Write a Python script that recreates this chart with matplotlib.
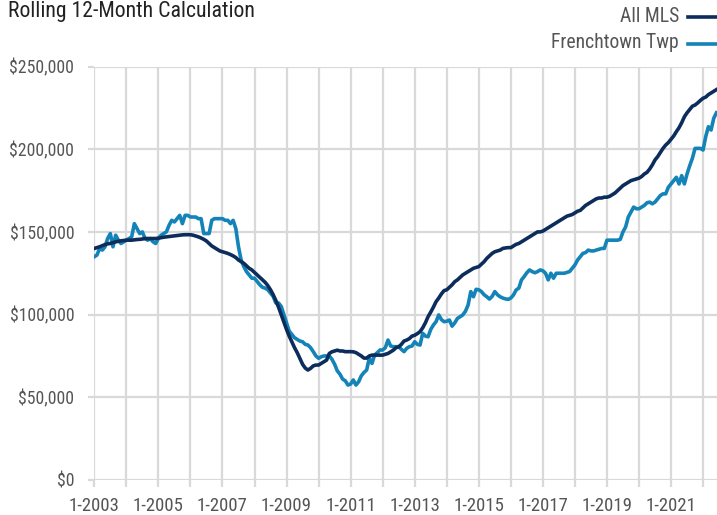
import matplotlib
matplotlib.use("Agg")
import matplotlib.pyplot as plt
from matplotlib.lines import Line2D
from matplotlib import font_manager
import numpy as np

_avail = {f.name for f in font_manager.fontManager.ttflist}
_fams = [f for f in ['Liberation Sans Narrow', 'Roboto Condensed', 'Open Sans Condensed',
                     'Liberation Sans', 'DejaVu Sans'] if f in _avail]
plt.rcParams['font.family'] = _fams

title = "Rolling 12-Month Calculation"
series_names = ["All MLS", "Frenchtown Twp"]
start_year = 2003

# monthly values (in $ thousands), Jan 2003 .. Jun 2022
all_mls = [
    140, 140.5, 141, 141.7, 142.3, 142.8, 143, 143.5, 144, 144.3, 144.6, 144.8,
    145, 145, 145, 145.2, 145.4, 145.5, 145.7, 146, 146, 146, 146, 146,
    146.2, 146.5, 146.8, 147, 147.2, 147.4, 147.6, 147.8, 148, 148.2, 148.3, 148.3,
    148.3, 148, 147.5, 147, 146.3, 145.5, 144.5, 143, 141.5, 140.5, 139.5, 138.5,
    138, 137.5, 137, 136.3, 135.5, 134.5, 133, 132, 131, 129.5, 128, 127,
    125.5, 124, 122.5, 121, 119.5, 117.5, 115, 112, 108.5, 104.5, 100, 95.5,
    91, 87, 83.5, 80, 77, 73.5, 70, 67.7, 66.5, 67.5, 69, 69.5,
    69.5, 70.5, 71.5, 72.5, 76.5, 77.5, 78, 78.5, 78, 78, 77.6, 77.6,
    77.6, 77.5, 77, 76, 75, 73.7, 73.7, 75, 75.5, 75.5, 75.5, 75.5,
    75.5, 76, 76.5, 77.5, 78.5, 80, 80.5, 82, 84, 84.6, 85.5, 87,
    87.5, 88.5, 89.7, 92, 95, 98.7, 101.5, 104.5, 107.8, 110, 112.5, 114.5,
    115, 116.5, 118, 119.9, 121, 122.5, 124, 125, 126, 127, 128, 128.5,
    129, 130.5, 132, 134, 135.5, 137, 138, 138.5, 139, 140, 140.3, 140.5,
    140.5, 141.5, 142.5, 143, 144, 145, 146, 147, 148, 149, 150, 150,
    150.5, 151.5, 152.5, 153.5, 154.5, 155.5, 156.5, 157.5, 158.5, 159.5, 160, 160.5,
    161.5, 162.5, 163, 164.5, 166, 167, 168, 169, 170, 170.5, 170.5, 171,
    171, 171.5, 172.5, 173.5, 175, 176.5, 178, 179, 180, 181, 181.5, 182,
    182.5, 183.5, 185, 186, 188, 190.5, 193.5, 195.5, 198, 200.5, 202.5, 204,
    206, 208, 210.6, 213, 216, 219.6, 222, 224, 226, 226.7, 228, 229.5,
    230.8, 231.5, 233, 234, 235, 236,
]

frenchtown = [
    135, 136, 140, 139, 141, 146, 149, 141, 148, 145, 143, 144,
    145, 146, 147, 155, 152, 149, 150, 146, 145, 146, 144, 143,
    146, 148, 149, 150, 154, 157, 156, 158, 160, 155, 160, 160,
    159, 159, 159, 158, 158, 149, 149, 149, 157, 158, 158, 158,
    158, 157, 157, 155, 157, 152, 141, 133, 129, 126, 124, 122,
    122, 120, 118, 116.5, 116, 115, 113, 111, 107, 107, 105, 100,
    95, 90, 88, 86, 85, 84, 83.6, 82, 81.6, 80, 77.6, 75,
    73.6, 74.5, 75, 75, 75, 73, 70, 66, 64, 61, 60, 57.4,
    58, 60.5, 57.4, 59.4, 63, 65, 66.5, 73.6, 70.5, 75.6, 77, 78.6,
    78.6, 80, 84.6, 81, 80.6, 80.6, 80.6, 79, 77.6, 79.6, 80.6, 81,
    83.6, 82, 81.6, 88.7, 87, 86.6, 91, 93.7, 95.7, 99.8, 97, 95.7,
    96, 96.7, 93, 95, 97.7, 98.7, 99.8, 102, 105.8, 113.9, 110.8, 115.3,
    115, 113.9, 112, 110.8, 109.4, 111, 113.9, 112, 110.8, 110, 109.5, 109.2,
    110, 111.9, 114.9, 116, 121, 123, 125.3, 127, 126, 125.3, 126, 127,
    126.5, 125, 121, 125, 122, 125, 125, 125, 125, 125.5, 126, 128,
    130, 133, 135, 137, 137.5, 139, 138.5, 138.5, 139, 139.5, 140, 140,
    145, 145, 145, 145, 145, 145.5, 150, 153, 159, 162, 165, 164,
    164, 165, 166, 167.6, 168, 167, 168, 170, 172, 173, 173, 177,
    179, 181, 183, 179, 184, 179, 185, 190, 194.5, 200.5, 200.5, 200.5,
    199.5, 207.6, 213.6, 211.6, 218.7, 222,
]

y_ticks = [0, 50000, 100000, 150000, 200000, 250000]
y_labels = ["$0", "$50,000", "$100,000", "$150,000", "$200,000", "$250,000"]
x_label_years = list(range(2003, 2022, 2))
x_labels = [f"1-{y}" for y in x_label_years]

colors = ["#0c2d5c", "#1483b8"]
grid_c = "#d9d9d9"

W, H = 717, 515
fig = plt.figure(figsize=(W / 100, H / 100), dpi=100)
left, right, bottom, top = 94.3, 717, 480, 66.5
ax = fig.add_axes([left / W, 1 - bottom / H, (right - left) / W, (bottom - top) / H])

x1 = start_year + np.arange(len(all_mls)) / 12
x2 = start_year + np.arange(len(frenchtown)) / 12
ax.plot(x1, np.array(all_mls) * 1000, color=colors[0], lw=2.6, solid_joinstyle='round', zorder=3)
ax.plot(x2, np.array(frenchtown) * 1000, color=colors[1], lw=2.6, solid_joinstyle='round', zorder=2)

ax.set_xlim(2003, 2003 + (right - left) / 32.04)
ax.set_ylim(0, 250000)

ax.set_xticks(x_label_years)
ax.set_xticklabels(x_labels)
ax.set_xticks(list(range(2004, 2023, 2)), minor=True)
ax.set_yticks(y_ticks)
ax.set_yticklabels(y_labels)

ax.grid(True, which='both', axis='x', color=grid_c, lw=1.6, zorder=0)
ax.grid(True, which='major', axis='y', color=grid_c, lw=1.6, zorder=0)
for s in ax.spines.values():
    s.set_visible(False)
ax.set_axisbelow(True)

ax.tick_params(axis='x', which='both', length=5, width=1.6, color=grid_c, pad=7.5,
               labelsize=13.5, labelcolor='#555555')
ax.tick_params(axis='y', which='major', length=4.5, width=1.6, color=grid_c, pad=10,
               labelsize=12.7, labelcolor='#555555')

fig.text(8 / W, 1 - 12 / H, title, fontsize=15.7, color='#222222', ha='left', va='center')

# legend
leg_y = [16, 43]
for name, c, yy in zip(series_names, colors, leg_y):
    fig.text(679 / W, 1 - yy / H, name, fontsize=14.1, color='#555555', ha='right', va='center')
    fig.add_artist(Line2D([688 / W, 717 / W], [1 - (yy + 1) / H] * 2, color=c, lw=2.6,
                          transform=fig.transFigure))

fig.savefig("out.png", dpi=100)
